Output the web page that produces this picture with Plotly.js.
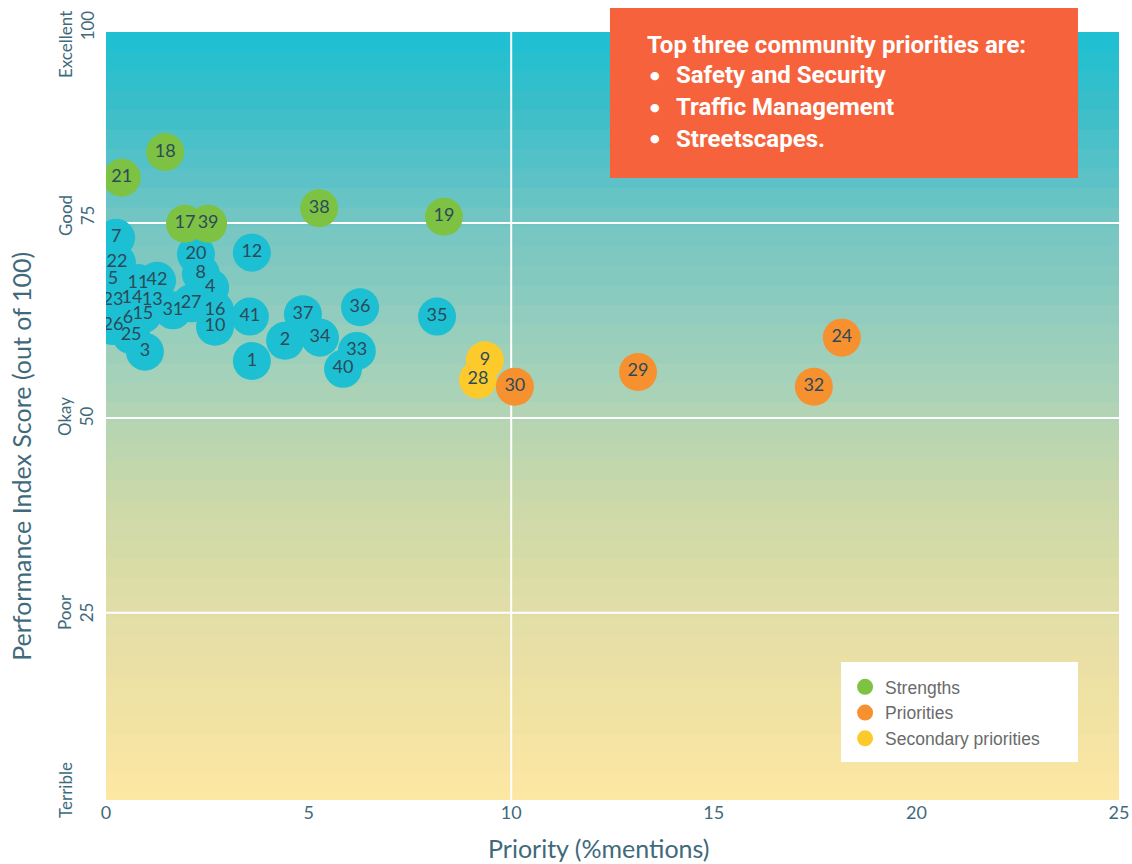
<!DOCTYPE html>
<html>
<head>
<meta charset="utf-8">
<script src="https://cdn.plot.ly/plotly-3.0.1.min.js"></script>
<style>
  html, body { margin: 0; padding: 0; background: #ffffff; }
  #chart { width: 1132px; height: 864px; }
</style>
</head>
<body>
<div id="chart"></div>
<script>
// Community performance vs. priority, one bubble per service area.

// Service areas in the general pool (no special status)
const otherIds = [7, 22, 5, 23, 26, 14, 11, 42, 13, 6, 15, 25, 3, 31, 27, 20, 8, 4, 16, 10, 12, 41, 1, 2, 37, 36, 34, 33, 40, 35];
const otherPriority = [0.25, 0.27, 0.17, 0.17, 0.17, 0.64, 0.79, 1.26, 1.14, 0.54, 0.91, 0.62, 0.96, 1.65, 2.10, 2.22, 2.34, 2.57, 2.69, 2.69, 3.60, 3.55, 3.60, 4.42, 4.86, 6.27, 5.28, 6.19, 5.85, 8.17];
const otherScore = [73.1, 69.9, 67.7, 65.1, 61.8, 65.3, 67.3, 67.6, 65.0, 62.8, 63.3, 60.6, 58.5, 63.8, 64.7, 71.0, 68.5, 66.7, 63.8, 61.7, 71.2, 63.0, 57.3, 59.9, 63.3, 64.2, 60.3, 58.6, 56.3, 63.0];

// Strengths
const strengthIds = [18, 21, 17, 39, 38, 19];
const strengthPriority = [1.46, 0.39, 1.95, 2.52, 5.26, 8.34];
const strengthScore = [84.1, 80.8, 74.9, 74.9, 76.9, 75.8];

// Priorities
const priorityIds = [30, 29, 32, 24];
const priorityPriority = [10.09, 13.13, 17.47, 18.16];
const priorityScore = [54.0, 55.9, 54.0, 60.3];

// Secondary priorities
const secondaryIds = [9, 28];
const secondaryPriority = [9.35, 9.18];
const secondaryScore = [57.4, 54.9];

// Axis ticks and rating bands
const xTicks = [0, 5, 10, 15, 20, 25];
const ratingLabels = ['Excellent<br>100', 'Good<br>75', 'Okay<br>50', 'Poor<br>25', 'Terrible'];

// Call-out text
const calloutTitle = 'Top three community priorities are:';
const topPriorities = ['Safety and Security', 'Traffic Management', 'Streetscapes.'];

const LABEL_FONT = { family: 'Lato, "Open Sans", sans-serif', size: 18, color: '#2c4a5a' };
const AXIS_COLOR = '#3f6a7b';
const BUBBLE = 38;

function bubbleTrace(ids, xs, ys, color, name, rank, showlegend) {
  return {
    type: 'scatter',
    mode: 'markers+text',
    x: xs,
    y: ys,
    text: ids.map(String),
    textposition: 'middle center',
    textfont: LABEL_FONT,
    name: name,
    legendrank: rank,
    showlegend: showlegend,
    marker: { size: BUBBLE, color: color, opacity: 1, line: { width: 0 } },
    hoverinfo: 'x+y+text'
  };
}

const traces = [
  bubbleTrace(otherIds, otherPriority, otherScore, '#1dbfd2', 'Other', 4, false),
  bubbleTrace(secondaryIds, secondaryPriority, secondaryScore, '#fdca2b', 'Secondary priorities', 3, true),
  bubbleTrace(priorityIds, priorityPriority, priorityScore, '#f7912f', 'Priorities', 2, true),
  bubbleTrace(strengthIds, strengthPriority, strengthScore, '#7dc243', 'Strengths', 1, true)
];

// Background wash: banded gradient from cyan at the top to pale yellow at the bottom
const washStops = [
  [99.5, [28, 192, 212]],
  [90.8, [56, 190, 201]],
  [80.5, [93, 194, 199]],
  [75.1, [116, 198, 195]],
  [65.1, [140, 203, 191]],
  [54.9, [165, 209, 184]],
  [50.1, [180, 212, 179]],
  [42.0, [198, 216, 171]],
  [31.8, [216, 220, 166]],
  [25.1, [226, 221, 168]],
  [13.8, [239, 226, 163]],
  [1.0, [253, 231, 163]]
];
function washColor(v) {
  for (let i = 0; i < washStops.length - 1; i++) {
    const a = washStops[i], b = washStops[i + 1];
    if (v <= a[0] && v >= b[0]) {
      const t = (a[0] - v) / (a[0] - b[0]);
      const c = a[1].map((ch, k) => Math.round(ch + (b[1][k] - ch) * t));
      return 'rgb(' + c.join(',') + ')';
    }
  }
  return 'rgb(253,231,163)';
}

const Y_MIN = 1.0, Y_MAX = 99.5;
const shapes = [];
const bandStep = 2.5;
for (let top = Y_MAX; top > Y_MIN; top -= bandStep) {
  const bottom = Math.max(Y_MIN, top - bandStep);
  // bands overlap slightly so no seams show between them
  shapes.push({
    type: 'rect', layer: 'below', xref: 'paper', yref: 'y',
    x0: 0, x1: 1, y0: Math.max(Y_MIN, bottom - 0.3), y1: top,
    fillcolor: washColor((top + bottom) / 2), line: { width: 0 }
  });
}
// Quadrant guides
[25, 50, 75].forEach(v => shapes.push({
  type: 'line', layer: 'below', xref: 'paper', yref: 'y',
  x0: 0, x1: 1, y0: v, y1: v, line: { color: '#ffffff', width: 2 }
}));
shapes.push({
  type: 'line', layer: 'below', xref: 'x', yref: 'y',
  x0: 10, x1: 10, y0: Y_MIN, y1: Y_MAX, line: { color: '#ffffff', width: 2 }
});
// Call-out panel
shapes.push({
  type: 'rect', layer: 'above', xref: 'paper', yref: 'paper',
  x0: 0.4975, x1: 0.9595, y0: 0.8099, y1: 1.0312,
  fillcolor: '#f6623c', line: { width: 0 }
});
// Legend panel
shapes.push({
  type: 'rect', layer: 'above', xref: 'paper', yref: 'paper',
  x0: 0.7256, x1: 0.9595, y0: 0.0495, y1: 0.1797,
  fillcolor: '#ffffff', line: { width: 0 }
});

const annotations = [];
// Rating band labels on the score axis
const ratingPos = [
  { y: 0.9830, x: -0.0296, align: 'right' },
  { y: 0.7604, x: -0.0296, align: 'center' },
  { y: 0.4987, x: -0.0296, align: 'center' },
  { y: 0.2448, x: -0.0296, align: 'center' },
  { y: 0.0130, x: -0.0405, align: 'center' }
];
ratingLabels.forEach((txt, i) => annotations.push({
  text: txt, xref: 'paper', yref: 'paper', x: ratingPos[i].x, y: ratingPos[i].y,
  xanchor: 'center', yanchor: 'middle', textangle: -90, align: ratingPos[i].align,
  showarrow: false, font: { family: 'Lato, sans-serif', size: 17, color: AXIS_COLOR }
}));
// Axis titles
annotations.push({
  text: 'Performance Index Score (out of 100)', xref: 'paper', yref: 'paper',
  x: -0.0840, y: 0.448, xanchor: 'center', yanchor: 'middle', textangle: -90,
  showarrow: false, font: { family: 'Lato, sans-serif', size: 25, color: AXIS_COLOR }
});
annotations.push({
  text: 'Priority (%mentions)', xref: 'paper', yref: 'paper',
  x: 0.487, y: -0.0625, xanchor: 'center', yanchor: 'middle',
  showarrow: false, font: { family: 'Lato, sans-serif', size: 25, color: AXIS_COLOR }
});
// Call-out text
const CALLOUT_FONT = { family: 'Roboto, "Liberation Sans", sans-serif', size: 24, color: '#ffffff', weight: 'bold' };
annotations.push({
  text: calloutTitle, xref: 'paper', yref: 'paper',
  x: 0.5316, y: 0.9831, xanchor: 'left', yanchor: 'middle',
  showarrow: false, font: CALLOUT_FONT
});
const bulletRows = [0.9440, 0.9023, 0.8607];
topPriorities.forEach((txt, i) => {
  annotations.push({
    text: '●', xref: 'paper', yref: 'paper', x: 0.5420, y: bulletRows[i],
    xanchor: 'center', yanchor: 'middle', showarrow: false,
    font: { family: '"DejaVu Sans", sans-serif', size: 11, color: '#ffffff' }
  });
  annotations.push({
    text: txt, xref: 'paper', yref: 'paper', x: 0.5607, y: bulletRows[i],
    xanchor: 'left', yanchor: 'middle', showarrow: false, font: CALLOUT_FONT
  });
});

const layout = {
  width: 1132,
  height: 864,
  margin: { l: 106, r: 13, t: 32, b: 64 },
  paper_bgcolor: '#ffffff',
  plot_bgcolor: '#ffffff',
  showlegend: true,
  legend: {
    x: 0.7296, y: 0.1706, xanchor: 'left', yanchor: 'top',
    bgcolor: 'rgba(0,0,0,0)', borderwidth: 0,
    font: { family: '"Liberation Sans", Arial, sans-serif', size: 17.5, color: '#6a6a6a' },
    traceorder: 'normal'
  },
  xaxis: {
    range: [0, 25],
    tickvals: xTicks,
    ticktext: xTicks.map(String),
    showgrid: false, zeroline: false, showline: false, ticks: '',
    tickfont: { family: 'Lato, sans-serif', size: 18, color: AXIS_COLOR },
    fixedrange: true
  },
  yaxis: {
    range: [Y_MIN, Y_MAX],
    showticklabels: false, showgrid: false, zeroline: false, showline: false, ticks: '',
    fixedrange: true
  },
  shapes: shapes,
  annotations: annotations,
  hovermode: 'closest'
};

Plotly.newPlot('chart', traces, layout, { displayModeBar: false, staticPlot: false });
</script>
</body>
</html>
